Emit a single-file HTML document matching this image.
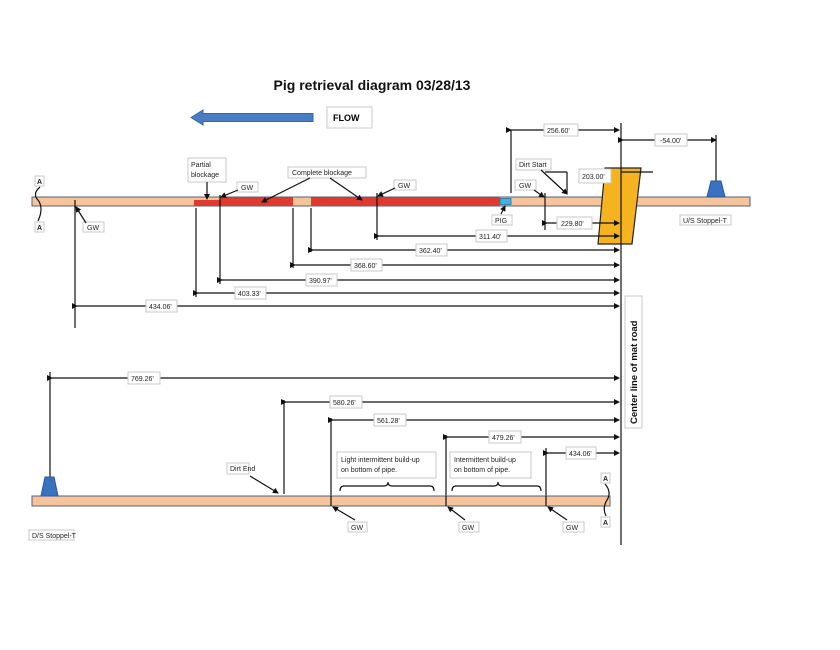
<!DOCTYPE html>
<html><head><meta charset="utf-8"><style>
html,body{margin:0;padding:0;background:#fff;}
svg{display:block;font-family:"Liberation Sans",sans-serif;}
.b{fill:#fff;stroke:#c8c8c8;stroke-width:1;}
.t{font-size:7px;fill:#222;}
.l{stroke:#111;stroke-width:1.2;fill:none;}
</style></head><body>
<svg width="840" height="650" viewBox="0 0 840 650" xmlns="http://www.w3.org/2000/svg">
<defs>
<marker id="a" markerWidth="6" markerHeight="6" refX="5" refY="3" orient="auto" markerUnits="userSpaceOnUse"><path d="M0,0 L6,3 L0,6 z" fill="#111"/></marker>
</defs>
<text x="372" y="90" text-anchor="middle" font-size="14" font-weight="bold" fill="#111">Pig retrieval diagram  03/28/13</text>
<path d="M191,117.5 L203,110 L203,113.5 L313,113.5 L313,121.5 L203,121.5 L203,125 z" fill="#4a7cc4" stroke="#3a66a8"/>
<rect class="b" x="327" y="107" width="45" height="21"/><text x="333" y="121" font-size="9" font-weight="bold">FLOW</text>

<rect x="32" y="197" width="718" height="9" fill="#f6c49a" stroke="#55607a" stroke-width="1"/>
<rect x="194" y="200" width="26" height="6" fill="#e03a2e"/>
<rect x="220" y="197.5" width="73" height="8.5" fill="#e03a2e"/>
<rect x="311" y="197.5" width="189" height="8.5" fill="#e03a2e"/>
<rect x="500" y="198.5" width="11" height="6" fill="#3cb6e0" stroke="#2a6ea0" stroke-width="0.8"/>
<line class="l" x1="220" y1="195" x2="220" y2="284"/>
<line class="l" x1="377" y1="193" x2="377" y2="240"/>
<line class="l" x1="545" y1="193" x2="545" y2="230"/>
<line class="l" x1="75" y1="200" x2="75" y2="328"/>
<line class="l" x1="196" y1="208" x2="196" y2="297"/>
<line class="l" x1="293" y1="208" x2="293" y2="268"/>
<line class="l" x1="311" y1="208" x2="311" y2="252"/>
<line class="l" x1="511" y1="130" x2="511" y2="193"/>

<path d="M605,168 L641,168 L632,244 L598,244 z" fill="#f5b41f" stroke="#222" stroke-width="1.2"/>
<line class="l" x1="621" y1="123" x2="621" y2="545" stroke-width="1.5"/>
<line class="l" x1="621" y1="172" x2="653" y2="172"/>
<rect class="b" x="579" y="169" width="32" height="14"/><text class="t" x="582" y="179">203.00'</text>

<line class="l" x1="716" y1="135" x2="716" y2="182"/>
<path d="M711,181 L721,181 L725,197 L707,197 z" fill="#3a72c0" stroke="#2a55a0"/>
<rect class="b" x="680" y="215" width="51" height="10"/><text class="t" x="683" y="223">U/S Stoppel-T</text>

<line class="l" x1="511" y1="130" x2="619" y2="130" marker-start="url(#a)" marker-end="url(#a)"/>
<rect class="b" x="544" y="124" width="34" height="12"/><text class="t" x="547" y="133">256.60'</text>
<line class="l" x1="623" y1="140" x2="716" y2="140" marker-start="url(#a)" marker-end="url(#a)"/>
<rect class="b" x="655" y="134" width="32" height="12"/><text class="t" x="660" y="143">-54.00'</text>

<rect class="b" x="516" y="159" width="35" height="11"/><text class="t" x="519" y="167">Dirt Start</text>
<line class="l" x1="545" y1="172" x2="567" y2="172"/><line class="l" x1="567" y1="172" x2="567" y2="194"/>
<line class="l" x1="541" y1="170" x2="567" y2="194" marker-end="url(#a)"/>
<rect class="b" x="515" y="180" width="21" height="10"/><text class="t" x="519" y="188">GW</text>
<line class="l" x1="534" y1="190" x2="544" y2="197" marker-end="url(#a)"/>

<rect class="b" x="188" y="158" width="38" height="24"/><text class="t" x="191" y="167">Partial</text><text class="t" x="191" y="177">blockage</text>
<line class="l" x1="207" y1="182" x2="207" y2="199" marker-end="url(#a)"/>
<rect class="b" x="237" y="182" width="21" height="10"/><text class="t" x="241" y="190">GW</text>
<line class="l" x1="238" y1="190" x2="221" y2="197" marker-end="url(#a)"/>
<rect class="b" x="288" y="167" width="78" height="11"/><text class="t" x="292" y="175">Complete blockage</text>
<line class="l" x1="310" y1="178" x2="262" y2="202" marker-end="url(#a)"/>
<line class="l" x1="330" y1="178" x2="362" y2="200" marker-end="url(#a)"/>
<rect class="b" x="394" y="180" width="22" height="10"/><text class="t" x="398" y="188">GW</text>
<line class="l" x1="395" y1="188" x2="378" y2="196" marker-end="url(#a)"/>
<rect class="b" x="492" y="215" width="20" height="10"/><text class="t" x="495" y="223">PIG</text>
<line class="l" x1="501" y1="214" x2="505" y2="206" marker-end="url(#a)"/>

<rect class="b" x="35" y="176" width="9" height="10"/><text class="t" x="37" y="184" font-weight="bold">A</text>
<rect class="b" x="35" y="222" width="9" height="10"/><text class="t" x="37" y="230" font-weight="bold">A</text>
<path d="M40,187 Q32,194 38,200 Q44,208 38,221" class="l" stroke-width="0.8"/>
<rect class="b" x="83" y="222" width="21" height="10"/><text class="t" x="87" y="230">GW</text>
<line class="l" x1="86" y1="223" x2="76" y2="207" marker-end="url(#a)"/>

<line class="l" x1="547" y1="223" x2="619" y2="223" marker-start="url(#a)" marker-end="url(#a)"/>
<rect class="b" x="557" y="217" width="35" height="12"/><text class="t" x="561" y="226">229.80'</text>
<line class="l" x1="379" y1="236" x2="619" y2="236" marker-start="url(#a)" marker-end="url(#a)"/>
<rect class="b" x="476" y="230" width="31" height="12"/><text class="t" x="479" y="239">311.40'</text>
<line class="l" x1="313" y1="250" x2="619" y2="250" marker-start="url(#a)" marker-end="url(#a)"/>
<rect class="b" x="416" y="244" width="31" height="12"/><text class="t" x="419" y="253">362.40'</text>
<line class="l" x1="295" y1="265" x2="619" y2="265" marker-start="url(#a)" marker-end="url(#a)"/>
<rect class="b" x="351" y="259" width="31" height="12"/><text class="t" x="354" y="268">368.60'</text>
<line class="l" x1="222" y1="280" x2="619" y2="280" marker-start="url(#a)" marker-end="url(#a)"/>
<rect class="b" x="306" y="274" width="31" height="12"/><text class="t" x="309" y="283">390.97'</text>
<line class="l" x1="198" y1="293" x2="619" y2="293" marker-start="url(#a)" marker-end="url(#a)"/>
<rect class="b" x="235" y="287" width="31" height="12"/><text class="t" x="238" y="296">403.33'</text>
<line class="l" x1="77" y1="306" x2="619" y2="306" marker-start="url(#a)" marker-end="url(#a)"/>
<rect class="b" x="146" y="300" width="31" height="12"/><text class="t" x="149" y="309">434.06'</text>

<rect class="b" x="625" y="296" width="17" height="132"/>
<text x="637" y="424" transform="rotate(-90 637 424)" font-size="9.5" font-weight="bold" fill="#111">Center line of mat  road</text>

<line class="l" x1="50" y1="372" x2="50" y2="478"/>
<line class="l" x1="52" y1="378" x2="619" y2="378" marker-start="url(#a)" marker-end="url(#a)"/>
<rect class="b" x="128" y="372" width="32" height="12"/><text class="t" x="131" y="381">769.26'</text>
<line class="l" x1="284" y1="400" x2="284" y2="494"/>
<line class="l" x1="286" y1="402" x2="619" y2="402" marker-start="url(#a)" marker-end="url(#a)"/>
<rect class="b" x="330" y="396" width="32" height="12"/><text class="t" x="333" y="405">580.26'</text>
<line class="l" x1="331" y1="418" x2="331" y2="503"/>
<line class="l" x1="333" y1="420" x2="619" y2="420" marker-start="url(#a)" marker-end="url(#a)"/>
<rect class="b" x="374" y="414" width="32" height="12"/><text class="t" x="377" y="423">561.28'</text>
<line class="l" x1="446" y1="435" x2="446" y2="503"/>
<line class="l" x1="448" y1="437" x2="619" y2="437" marker-start="url(#a)" marker-end="url(#a)"/>
<rect class="b" x="489" y="431" width="32" height="12"/><text class="t" x="492" y="440">479.26'</text>
<line class="l" x1="546" y1="448" x2="546" y2="503"/>
<line class="l" x1="548" y1="453" x2="619" y2="453" marker-start="url(#a)" marker-end="url(#a)"/>
<rect class="b" x="566" y="447" width="30" height="12"/><text class="t" x="569" y="456">434.06'</text>

<rect x="32" y="496" width="578" height="10" fill="#f6c49a" stroke="#55607a" stroke-width="1"/>
<line class="l" x1="331" y1="496" x2="331" y2="506"/><line class="l" x1="446" y1="496" x2="446" y2="506"/><line class="l" x1="546" y1="496" x2="546" y2="506"/>
<path d="M45,477 L54,477 L58,496 L41,496 z" fill="#3a72c0" stroke="#2a55a0"/>
<rect class="b" x="227" y="463" width="22" height="11"/><text class="t" x="230" y="471">Dirt End</text>
<line class="l" x1="250" y1="476" x2="278" y2="493" marker-end="url(#a)"/>
<rect class="b" x="337" y="452" width="99" height="26"/><text class="t" x="341" y="462">Light intermittent build-up</text><text class="t" x="341" y="472">on bottom of pipe.</text>
<rect class="b" x="450" y="452" width="81" height="26"/><text class="t" x="454" y="462">Intermittent build-up</text><text class="t" x="454" y="472">on bottom of pipe.</text>
<path class="l" stroke-width="0.9" d="M340,491 Q340,486 344,486 L384,486 Q388,486 388,482 Q388,486 392,486 L430,486 Q434,486 434,491"/>
<path class="l" stroke-width="0.9" d="M452,491 Q452,486 456,486 L494,486 Q498,486 498,482 Q498,486 502,486 L537,486 Q541,486 541,491"/>
<rect class="b" x="348" y="522" width="19" height="10"/><text class="t" x="351" y="530">GW</text>
<line class="l" x1="355" y1="520" x2="333" y2="507" marker-end="url(#a)"/>
<rect class="b" x="459" y="522" width="20" height="10"/><text class="t" x="462" y="530">GW</text>
<line class="l" x1="465" y1="520" x2="448" y2="507" marker-end="url(#a)"/>
<rect class="b" x="563" y="522" width="21" height="10"/><text class="t" x="566" y="530">GW</text>
<line class="l" x1="567" y1="520" x2="548" y2="507" marker-end="url(#a)"/>
<rect class="b" x="601" y="473" width="9" height="10"/><text class="t" x="603" y="481" font-weight="bold">A</text>
<rect class="b" x="601" y="517" width="9" height="10"/><text class="t" x="603" y="525" font-weight="bold">A</text>
<path d="M605,484 Q612,492 607,500 Q602,508 606,516" class="l" stroke-width="0.8"/>
<rect class="b" x="29" y="530" width="45" height="10"/><text class="t" x="32" y="538">D/S Stoppel-T</text>
</svg>
</body></html>
